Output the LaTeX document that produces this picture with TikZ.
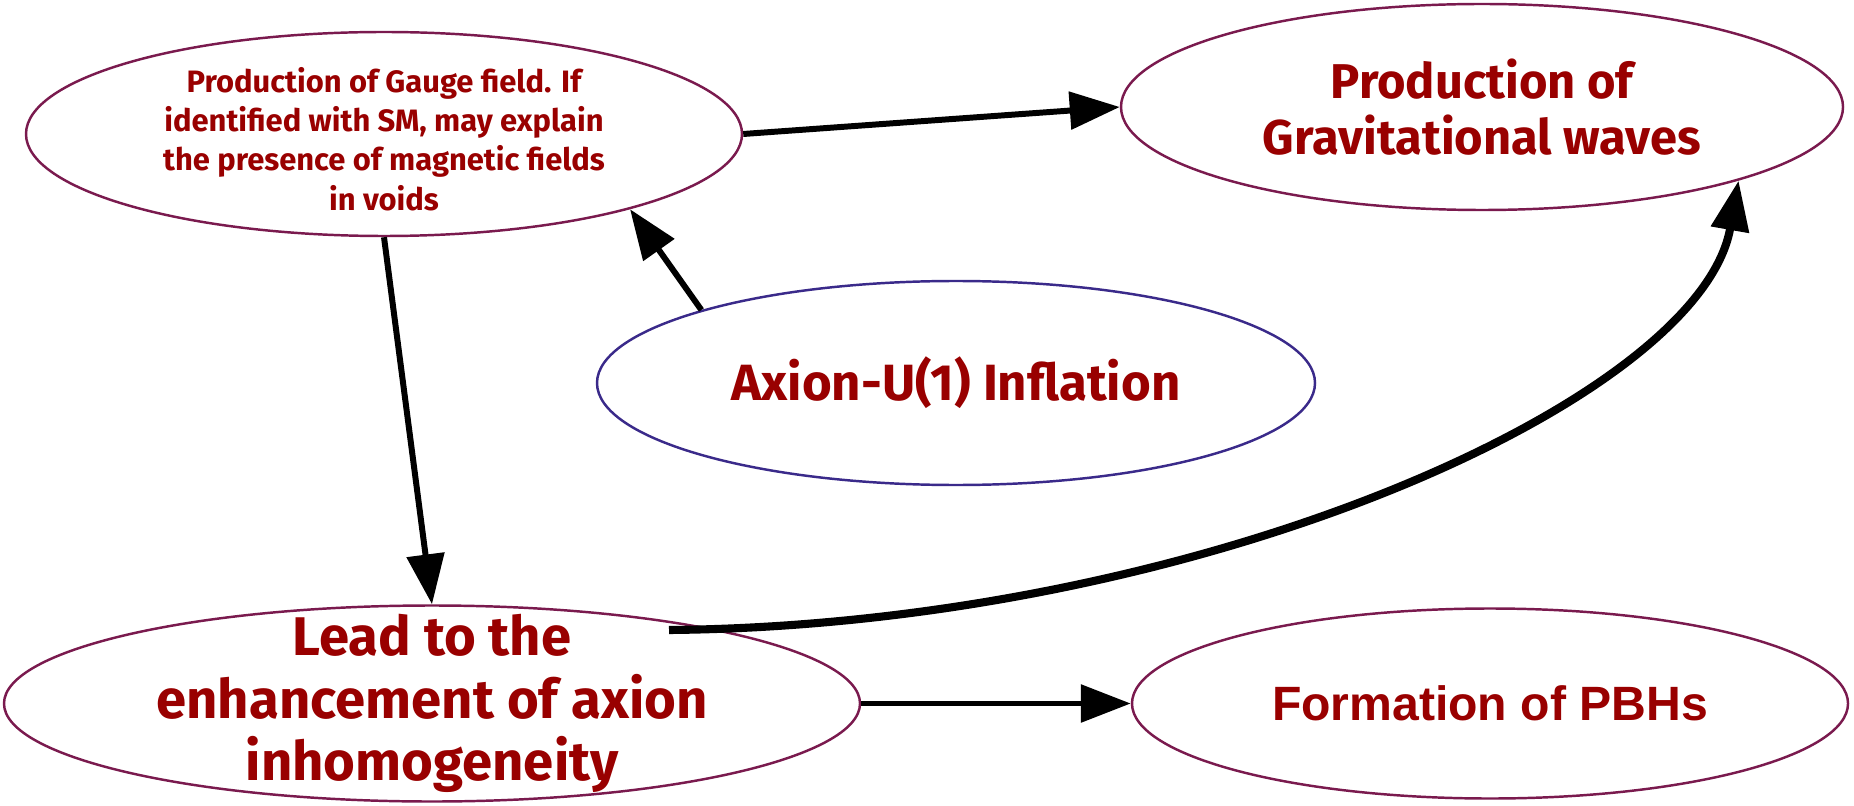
\documentclass[tikz,border=0pt]{standalone}
\usepackage{fontspec}
\setmainfont{Fira Sans}
\newfontfamily\arialfont{Liberation Sans}
\usepackage{xcolor}
\usetikzlibrary{arrows.meta, shapes.geometric}

\definecolor{txtred}{HTML}{990000}
\definecolor{rimred}{HTML}{7A1A4E}
\definecolor{rimblue}{HTML}{3A2A8A}

\begin{document}
\begin{tikzpicture}[
    ell/.style={draw=rimred, line width=0.7pt, ellipse, inner sep=0pt},
    txt/.style={text=txtred, font=\bfseries\fontsize{14.5}{17.5}\selectfont,
                align=center},
    small/.style={text=txtred, font=\bfseries\fontsize{8.8}{11.2}\selectfont,
                  align=center},
    flecha/.style={-{Triangle[length=5mm, width=3.7mm]}, line width=1.7pt},
    curva/.style={-{Triangle[length=5mm, width=3.7mm]}, line width=2.3pt}
  ]
  \useasboundingbox (0,0) rectangle (18.54,8.05);

  % --- Elipses ---
  \node[ell, minimum width=7.16cm, minimum height=2.04cm] (gauge) at (3.84,6.71)
    {};
  \node[small] (gauge-t) at ([yshift=-0.05cm]gauge) {Production of Gauge field. If\\
    identified with SM, may explain\\the presence of magnetic fields\\in voids};
  \node[ell, minimum width=7.22cm, minimum height=2.06cm] (gw) at (14.82,6.98) {};
  \node[txt, font=\bfseries\fontsize{13.9}{16}\selectfont] (gw-t) at (gw)
    {Production of\\Gravitational waves};
  \node[ell, draw=rimblue, minimum width=7.18cm, minimum height=2.04cm] (axion)
    at (9.56,4.22) {};
  \node[txt] (axion-t) at (axion) {Axion-U(1) Inflation};
  \node[ell, minimum width=8.56cm, minimum height=1.96cm] (lead) at (4.32,1.015) {};
  \node[txt, font=\bfseries\fontsize{15.5}{17.8}\selectfont] (lead-t) at (lead)
    {Lead to the\\enhancement of axion\\inhomogeneity};
  \node[ell, minimum width=7.16cm, minimum height=1.90cm] (pbh) at (14.90,1.015) {};
  \node[txt, font=\arialfont\bfseries\fontsize{13.7}{16}\selectfont] (pbh-t) at (pbh)
    {Formation of PBHs};

  % --- Flechas ---
  \coordinate (inicio) at (6.69,1.75);
  \draw[flecha] (gauge.east) -- (gw.west);
  \draw[flecha] (axion.164) -- (gauge.-17);
  \draw[flecha] (gauge.south) -- (lead.north);
  \draw[flecha] (lead.east) -- (pbh.west);
  \draw[curva] (inicio) .. controls (12.00,1.80) and (17.00,4.05) .. (gw.-16);

\end{tikzpicture}
\end{document}
